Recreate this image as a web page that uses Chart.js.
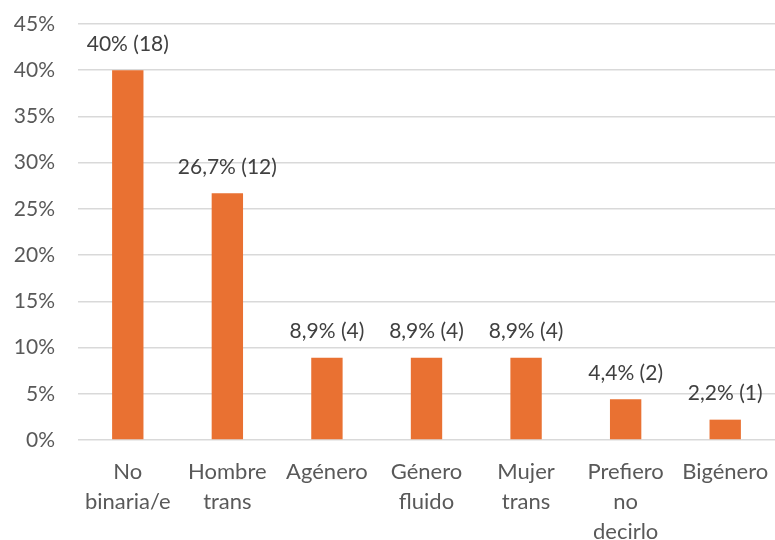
<!DOCTYPE html>
<html>
<head>
<meta charset="utf-8">
<script src="https://cdn.jsdelivr.net/npm/chart.js@4"></script>
<style>
  body { margin: 0; background: #fff; }
  #wrap { width: 775px; height: 540px; }
</style>
</head>
<body>
<div id="wrap"><canvas id="genderChart"></canvas></div>
<script>
const categories = [
  ["No", "binaria/e"],
  ["Hombre", "trans"],
  "Agénero",
  ["Género", "fluido"],
  ["Mujer", "trans"],
  ["Prefiero", "no", "decirlo"],
  "Bigénero",
];
const percents = [40, 26.7, 8.9, 8.9, 8.9, 4.4, 2.2];
const counts = [18, 12, 4, 4, 4, 2, 1];
const percentLabels = ["40%", "26,7%", "8,9%", "8,9%", "8,9%", "4,4%", "2,2%"];

const FONT = "Lato, 'Liberation Sans', sans-serif";

// draws the "xx% (n)" text above each bar
const barLabels = {
  id: "barLabels",
  afterDatasetsDraw(chart) {
    const ctx = chart.ctx;
    const meta = chart.getDatasetMeta(0);
    ctx.save();
    ctx.font = "21px " + FONT;
    ctx.fillStyle = "#404040";
    ctx.textAlign = "center";
    ctx.textBaseline = "middle";
    meta.data.forEach((bar, i) => {
      ctx.fillText(percentLabels[i] + " (" + counts[i] + ")", bar.x, bar.y - 26);
    });
    ctx.restore();
  },
};

new Chart(document.getElementById("genderChart"), {
  type: "bar",
  plugins: [barLabels],
  data: {
    labels: categories,
    datasets: [
      {
        data: percents,
        backgroundColor: "#E97132",
        categoryPercentage: 1,
        barPercentage: 0.315,
      },
    ],
  },
  options: {
    responsive: true,
    maintainAspectRatio: false,
    animation: false,
    layout: { padding: { top: 24, right: -7, left: 0, bottom: 0 } },
    plugins: {
      legend: { display: false },
      tooltip: { enabled: false },
    },
    scales: {
      x: {
        grid: { display: false },
        border: { display: false },
        ticks: {
          color: "#595959",
          font: { family: FONT, size: 22, lineHeight: 1.36 },
          padding: 9,
          maxRotation: 0,
          autoSkip: false,
        },
        afterFit: (scale) => {
          scale.height = 100;
          scale.paddingLeft = 0;
          scale.paddingRight = 0;
        },
      },
      y: {
        min: 0,
        max: 45,
        border: { display: false },
        grid: { color: "#d9d9d9", lineWidth: 1.5, drawTicks: false },
        ticks: {
          stepSize: 5,
          color: "#595959",
          font: { family: FONT, size: 21 },
          padding: 23,
          callback: (v) => v + "%",
        },
        afterFit: (scale) => {
          scale.width = 78;
          scale.paddingTop = 0;
          scale.paddingBottom = 0;
        },
      },
    },
  },
});
</script>
</body>
</html>
